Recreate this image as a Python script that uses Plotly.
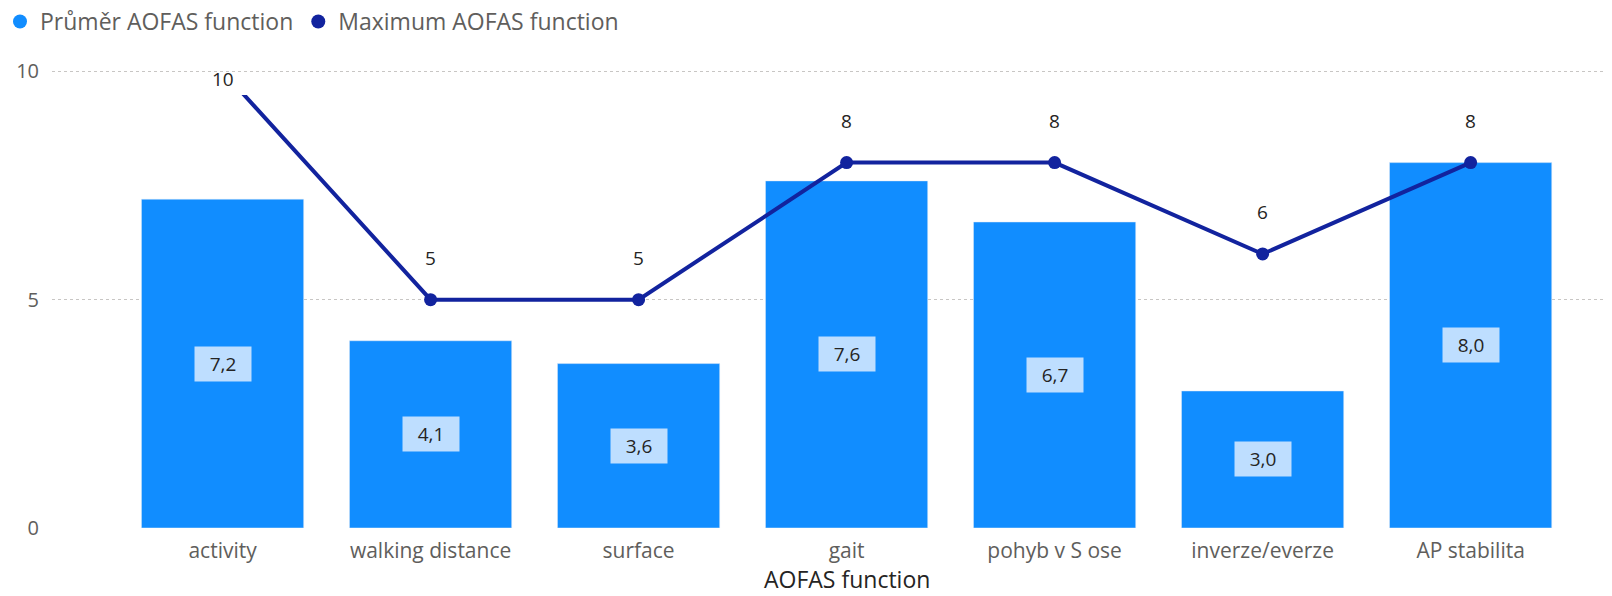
import plotly.graph_objects as go

categories = ["activity", "walking distance", "surface", "gait", "pohyb v S ose", "inverze/everze", "AP stabilita"]
prumer = [7.2, 4.1, 3.6, 7.6, 6.7, 3.0, 8.0]
maximum = [10, 5, 5, 8, 8, 6, 8]
y_ticks = [0, 5, 10]
x_title = "AOFAS function"

BAR = "#118DFF"
LINE = "#12239E"
FONT = "Open Sans, Segoe UI, sans-serif"

Y_TOP = 10.4
LINE_CLIP = 9.48

fig = go.Figure()
fig.add_trace(go.Bar(x=categories, y=prumer, marker_color=BAR, width=0.78,
                     showlegend=False, name="Průměr AOFAS function"))
fig.add_trace(go.Scatter(x=categories, y=maximum, mode="lines+markers", yaxis="y2",
                         line=dict(color=LINE, width=4), marker=dict(size=13, color=LINE),
                         showlegend=False, name="Maximum AOFAS function", cliponaxis=True))
# legend entries
fig.add_trace(go.Scatter(x=[None], y=[None], mode="markers", name="Průměr AOFAS function",
                         marker=dict(symbol="circle", size=14, color=BAR)))
fig.add_trace(go.Scatter(x=[None], y=[None], mode="markers", name="Maximum AOFAS function",
                         marker=dict(symbol="circle", size=14, color=LINE)))

annotations = []
for c, v in zip(categories, prumer):
    annotations.append(dict(x=c, y=v / 2, text=f"{v:.1f}".replace(".", ","), showarrow=False,
                            width=46, height=24, borderpad=5,
                            bgcolor="#BEDEFF", font=dict(size=19, color="#252423", family=FONT)))
for i, (c, v) in enumerate(zip(categories, maximum)):
    shift = 42 if v < LINE_CLIP else -8
    annotations.append(dict(x=c, y=v, yshift=shift, text=str(v), showarrow=False,
                            font=dict(size=19, color="#252423", family=FONT)))
# axis title centred on the category band
annotations.append(dict(x=(len(categories) - 1) / 2, xref="x", y=0, yref="paper", yshift=-51,
                        yanchor="middle", text=x_title, showarrow=False,
                        font=dict(size=23, color="#252423", family=FONT)))

fig.update_layout(
    width=1612, height=596,
    margin=dict(l=52, r=7, t=53, b=68),
    paper_bgcolor="white", plot_bgcolor="rgba(0,0,0,0)",
    font=dict(family=FONT, color="#605E5C"),
    annotations=annotations,
    legend=dict(orientation="h", xref="container", yref="container", x=-0.004, y=1.0,
                xanchor="left", yanchor="top", font=dict(size=23, color="#605E5C"),
                itemwidth=30, tracegroupgap=0, bgcolor="rgba(0,0,0,0)"),
    xaxis=dict(range=[-0.82, 6.646], showgrid=False, zeroline=False, showline=False, ticks="",
               tickfont=dict(size=21, color="#605E5C"), ticklabelstandoff=8),
    yaxis=dict(range=[0, Y_TOP], tickvals=y_ticks, showgrid=True, gridcolor="#C8C6C4",
               griddash="dot", gridwidth=1, zeroline=False, showline=False, ticks="",
               tickfont=dict(size=20, color="#605E5C"), ticklabelstandoff=12),
    yaxis2=dict(domain=[0, LINE_CLIP / Y_TOP], range=[0, LINE_CLIP], anchor="x",
                showgrid=False, zeroline=False, showticklabels=False, showline=False, ticks=""),
)

fig.write_html("out.html")
